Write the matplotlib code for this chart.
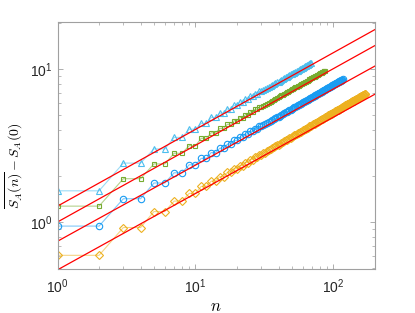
import numpy as np
import matplotlib
matplotlib.use('Agg')
import matplotlib.pyplot as plt

plt.rcParams['mathtext.fontset'] = 'cm'
plt.rcParams['font.family'] = ['Liberation Sans', 'DejaVu Sans']

# triangles (light blue), n = 1..69
n_tri = list(range(1, 70))
s_tri = [1.60, 1.60, 2.43, 2.43, 3.01, 3.01, 3.58, 3.58, 4.05, 4.05,
         4.42, 4.42, 4.84, 4.84, 5.16, 5.16, 5.49, 5.49, 5.79, 5.79,
         6.09, 6.09, 6.37, 6.37, 6.64, 6.64, 6.90, 6.90, 7.16, 7.16,
         7.28, 7.40, 7.52, 7.64, 7.76, 7.87, 7.98, 8.09, 8.20, 8.31,
         8.42, 8.52, 8.63, 8.73, 8.84, 8.94, 9.04, 9.14, 9.24, 9.33,
         9.43, 9.52, 9.62, 9.71, 9.81, 9.90, 9.99, 10.08, 10.17, 10.26,
         10.35, 10.44, 10.53, 10.61, 10.70, 10.78, 10.87, 10.95, 11.03]

# squares (green), n = 1..87
n_sq = list(range(1, 88))
s_sq = [1.27, 1.27, 1.92, 1.92, 2.40, 2.40, 2.82, 2.82, 3.16, 3.16,
        3.53, 3.53, 3.84, 3.84, 4.10, 4.10, 4.36, 4.36, 4.60, 4.60,
        4.83, 4.83, 5.05, 5.05, 5.27, 5.27, 5.47, 5.47, 5.67, 5.67,
        5.77, 5.86, 5.95, 6.04, 6.13, 6.22, 6.31, 6.40, 6.49, 6.57,
        6.66, 6.74, 6.82, 6.90, 6.98, 7.06, 7.14, 7.22, 7.30, 7.37,
        7.45, 7.52, 7.60, 7.67, 7.74, 7.81, 7.89, 7.96, 8.03, 8.10,
        8.17, 8.24, 8.31, 8.37, 8.44, 8.51, 8.58, 8.64, 8.71, 8.77,
        8.84, 8.90, 8.96, 9.02, 9.09, 9.15, 9.21, 9.27, 9.33, 9.39,
        9.45, 9.51, 9.57, 9.63, 9.69, 9.75, 9.81]

# circles (blue), n = 1..117
n_ci = list(range(1, 118))
s_ci = [0.94, 0.94, 1.42, 1.42, 1.80, 1.80, 2.10, 2.10, 2.37, 2.37,
        2.61, 2.61, 2.85, 2.85, 3.04, 3.04, 3.23, 3.23, 3.42, 3.42,
        3.59, 3.59, 3.76, 3.76, 3.92, 3.92, 4.07, 4.07, 4.22, 4.22,
        4.29, 4.36, 4.44, 4.51, 4.58, 4.64, 4.71, 4.78, 4.84, 4.90,
        4.97, 5.03, 5.10, 5.16, 5.22, 5.28, 5.34, 5.39, 5.45, 5.51,
        5.57, 5.62, 5.68, 5.74, 5.80, 5.85, 5.90, 5.95, 6.01, 6.06,
        6.11, 6.16, 6.22, 6.27, 6.32, 6.37, 6.42, 6.47, 6.52, 6.57,
        6.62, 6.67, 6.72, 6.77, 6.81, 6.86, 6.91, 6.95, 7.00, 7.04,
        7.09, 7.13, 7.18, 7.22, 7.27, 7.31, 7.36, 7.40, 7.45, 7.49,
        7.54, 7.58, 7.62, 7.66, 7.71, 7.75, 7.79, 7.83, 7.87, 7.91,
        7.95, 7.99, 8.04, 8.08, 8.12, 8.16, 8.20, 8.24, 8.28, 8.32,
        8.36, 8.40, 8.44, 8.48, 8.51, 8.55, 8.59]

# diamonds (orange), n = 1..170
n_di = list(range(1, 171))
s_di = [0.605, 0.605, 0.92, 0.92, 1.17, 1.17, 1.37, 1.37, 1.54, 1.54,
        1.71, 1.71, 1.85, 1.85, 1.98, 1.98, 2.11, 2.11, 2.23, 2.23,
        2.34, 2.34, 2.45, 2.45, 2.56, 2.56, 2.66, 2.66, 2.76, 2.76,
        2.81, 2.85, 2.90, 2.95, 3.00, 3.04, 3.09, 3.13, 3.17, 3.21,
        3.26, 3.30, 3.34, 3.38, 3.42, 3.46, 3.50, 3.54, 3.57, 3.61,
        3.65, 3.69, 3.72, 3.76, 3.80, 3.84, 3.87, 3.91, 3.94, 3.98,
        4.02, 4.05, 4.09, 4.12, 4.15, 4.19, 4.22, 4.25, 4.28, 4.32,
        4.35, 4.38, 4.41, 4.45, 4.48, 4.51, 4.54, 4.57, 4.60, 4.63,
        4.66, 4.69, 4.72, 4.75, 4.78, 4.81, 4.84, 4.87, 4.90, 4.93,
        4.96, 4.99, 5.02, 5.04, 5.07, 5.10, 5.13, 5.16, 5.18, 5.21,
        5.24, 5.27, 5.30, 5.32, 5.35, 5.38, 5.40, 5.43, 5.45, 5.48,
        5.51, 5.53, 5.56, 5.58, 5.61, 5.64, 5.66, 5.69, 5.71, 5.74,
        5.76, 5.79, 5.81, 5.84, 5.86, 5.89, 5.91, 5.94, 5.96, 5.99,
        6.01, 6.04, 6.06, 6.09, 6.11, 6.13, 6.15, 6.18, 6.20, 6.22,
        6.24, 6.27, 6.29, 6.31, 6.34, 6.36, 6.39, 6.41, 6.43, 6.46,
        6.48, 6.50, 6.53, 6.55, 6.57, 6.59, 6.61, 6.64, 6.66, 6.68,
        6.70, 6.72, 6.75, 6.77, 6.79, 6.81, 6.83, 6.86, 6.88, 6.90]

# red fit lines, values at n = 1 and n = 200
fit_n = [1, 200]
fit_y = [[1.27, 18.2], [1.0, 14.3], [0.748, 10.5], [0.486, 6.87]]

series = [(n_tri, s_tri, '^', '#4dbeee', 5.0),
          (n_sq, s_sq, 's', '#77ac30', 3.2),
          (n_ci, s_ci, 'o', '#1a9cf2', 4.6),
          (n_di, s_di, 'D', '#edb120', 3.6)]

fig = plt.figure(figsize=(4.15, 3.13), dpi=100)
ax = fig.add_axes([0.1386, 0.1396, 0.7650, 0.7892])

for nn, ss, mk, col, ms in series:
    ax.plot(nn, ss, '-', color=col, lw=0.8, alpha=0.55)
    ax.plot(nn, ss, linestyle='none', marker=mk, ms=ms, mfc='none',
            mec=col, mew=0.8)

for fy in fit_y:
    ax.plot(fit_n, fy, '-', color='red', lw=0.9)

ax.set_xscale('log')
ax.set_yscale('log')
ax.set_xlim(1, 200)
ax.set_ylim(0.49, 20.3)

for sp in ax.spines.values():
    sp.set_color('#a0a0a0')
    sp.set_linewidth(0.8)
ax.tick_params(which='both', direction='in', top=True, right=True,
               color='#a0a0a0', labelsize=10, labelcolor='#262626')
ax.tick_params(which='major', length=3.5, width=0.6)
ax.tick_params(which='minor', length=2, width=0.5)
ax.tick_params(axis='x', pad=6)

ax.set_xlabel('$n$', fontsize=12, labelpad=2)
ax.set_ylabel(r'$\overline{S_A(n)} - S_A(0)$', fontsize=10)
ax.yaxis.set_label_coords(-0.1, 0.42)

fig.savefig('out.png', dpi=100)
